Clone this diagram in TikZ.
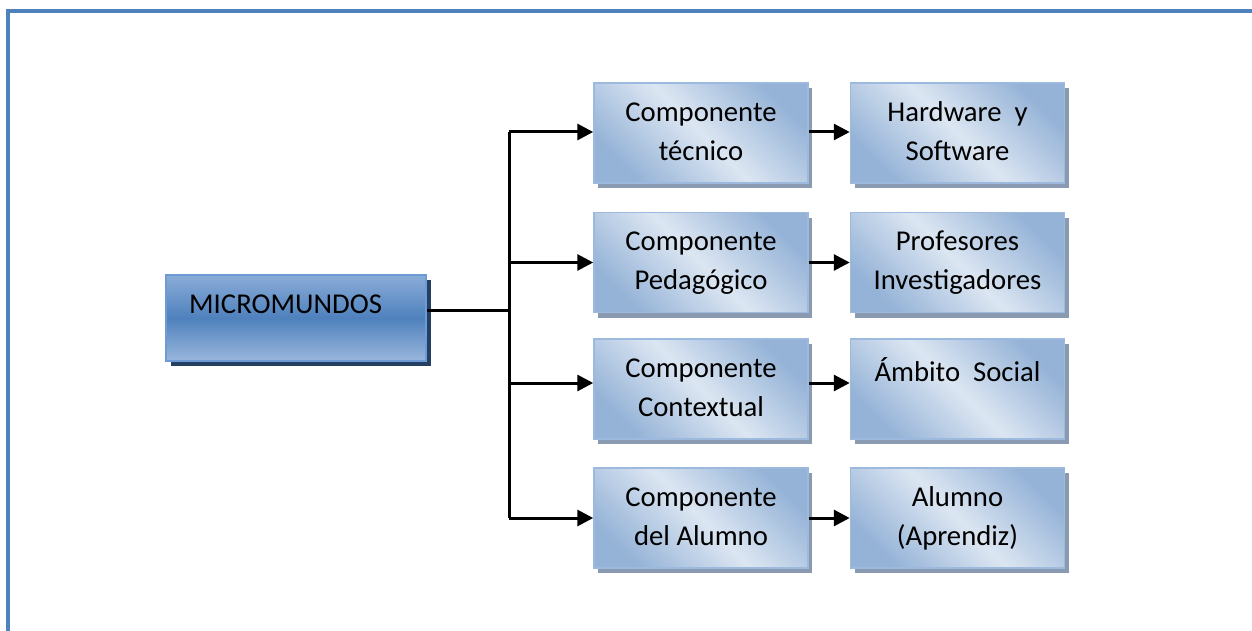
\documentclass[tikz,border=0pt]{standalone}
\usepackage{fontspec}
\setmainfont{Carlito}
\usetikzlibrary{arrows.meta,shadows,calc}
\definecolor{frameblue}{HTML}{4F81BD}
\definecolor{lightfill}{HTML}{DCE6F2}
\definecolor{darkfill}{HTML}{95B3D7}
\definecolor{boxborder}{HTML}{9DB9DE}
\definecolor{shgray}{HTML}{8A9AB0}
\definecolor{mtop}{HTML}{8AACD8}
\definecolor{mmid}{HTML}{4F81BD}
\definecolor{mbot}{HTML}{9AB7DC}
\definecolor{mborder}{HTML}{6C9BD6}
\definecolor{mshadow}{HTML}{253F62}
\begin{document}
\begin{tikzpicture}[x=1pt,y=-1pt,
  cbox/.style={rectangle, minimum width=214pt, minimum height=100pt, inner sep=0pt,
    draw=boxborder, line width=1.5pt,
    top color=darkfill, bottom color=darkfill, middle color=lightfill, shading angle=-45,
    general shadow={shadow xshift=4pt, shadow yshift=-5pt, fill=shgray}},
  mbox/.style={rectangle, minimum width=260pt, minimum height=86pt, inner sep=0pt,
    draw=mborder, line width=1.5pt,
    top color=mtop, bottom color=mbot, middle color=mmid,
    general shadow={shadow xshift=5pt, shadow yshift=-5pt, fill=mshadow}},
  lbl/.style={anchor=north, inner sep=0pt, align=center,
    font=\fontsize{28.7pt}{39pt}\selectfont},
  conn/.style={line width=3pt, black},
  arr/.style={conn, -{Triangle[length=16pt,width=16pt]}},
  frame/.style={line width=4pt, frameblue}
]
\useasboundingbox (0,0) rectangle (1252,631);
\draw[frame] (8,633) -- (8,11) -- (1254,11);

% main box
\node[mbox] (m) at (296,318) {};
\node[anchor=base west, inner sep=0pt, font=\fontsize{28.7pt}{37pt}\selectfont] (mt) at (189,313) {MICROMUNDOS};

% column 1
\node[cbox] (c1) at (701,133) {};
\node[cbox] (c2) at (701,262.5) {};
\node[cbox] (c3) at (701,389) {};
\node[cbox] (c4) at (701,518) {};
% column 2
\node[cbox] (h1) at (957.5,133) {};
\node[cbox] (h2) at (957.5,262.5) {};
\node[cbox] (h3) at (957.5,389) {};
\node[cbox] (h4) at (957.5,518) {};

\node[lbl] (c1t) at ([yshift=-19pt]c1.north) {\rule{0pt}{20pt}Componente\\técnico};
\node[lbl] (c2t) at ([yshift=-19pt]c2.north) {\rule{0pt}{20pt}Componente\\Pedagógico};
\node[lbl] (c3t) at ([yshift=-19pt]c3.north) {\rule{0pt}{20pt}Componente\\Contextual};
\node[lbl] (c4t) at ([yshift=-19pt]c4.north) {\rule{0pt}{20pt}Componente\\del Alumno};
\node[lbl] (h1t) at ([yshift=-19pt]h1.north) {\rule{0pt}{20pt}Hardware~ y\\Software};
\node[lbl] (h2t) at ([yshift=-19pt]h2.north) {\rule{0pt}{20pt}Profesores\\Investigadores};
\node[lbl] (h3t) at ([yshift=-19pt]h3.north) {\rule{0pt}{20pt}Ámbito~ Social};
\node[lbl] (h4t) at ([yshift=-19pt]h4.north) {\rule{0pt}{20pt}Alumno\\(Aprendiz)};

% connectors
\coordinate (mout) at ([yshift=8pt]m.east);
\coordinate (j) at (509,310);
\coordinate (c1in) at ([yshift=1pt]c1.west);
\coordinate (c2in) at (c2.west);
\coordinate (c3in) at ([yshift=6pt]c3.west);
\coordinate (c4in) at (c4.west);
\draw[conn] (mout) -- (j);
\draw[conn] (j |- c1in) -- (j |- c4in);
\draw[arr] (j |- c1in) -- (c1in);
\draw[arr] (j |- c2in) -- (c2in);
\draw[arr] (j |- c3in) -- (c3in);
\draw[arr] (j |- c4in) -- (c4in);

\draw[arr] (c1.east |- c1in) -- (h1.west |- c1in);
\draw[arr] (c2.east |- c2in) -- (h2.west |- c2in);
\draw[arr] (c3.east |- c3in) -- (h3.west |- c3in);
\draw[arr] (c4.east |- c4in) -- (h4.west |- c4in);
\end{tikzpicture}
\end{document}
